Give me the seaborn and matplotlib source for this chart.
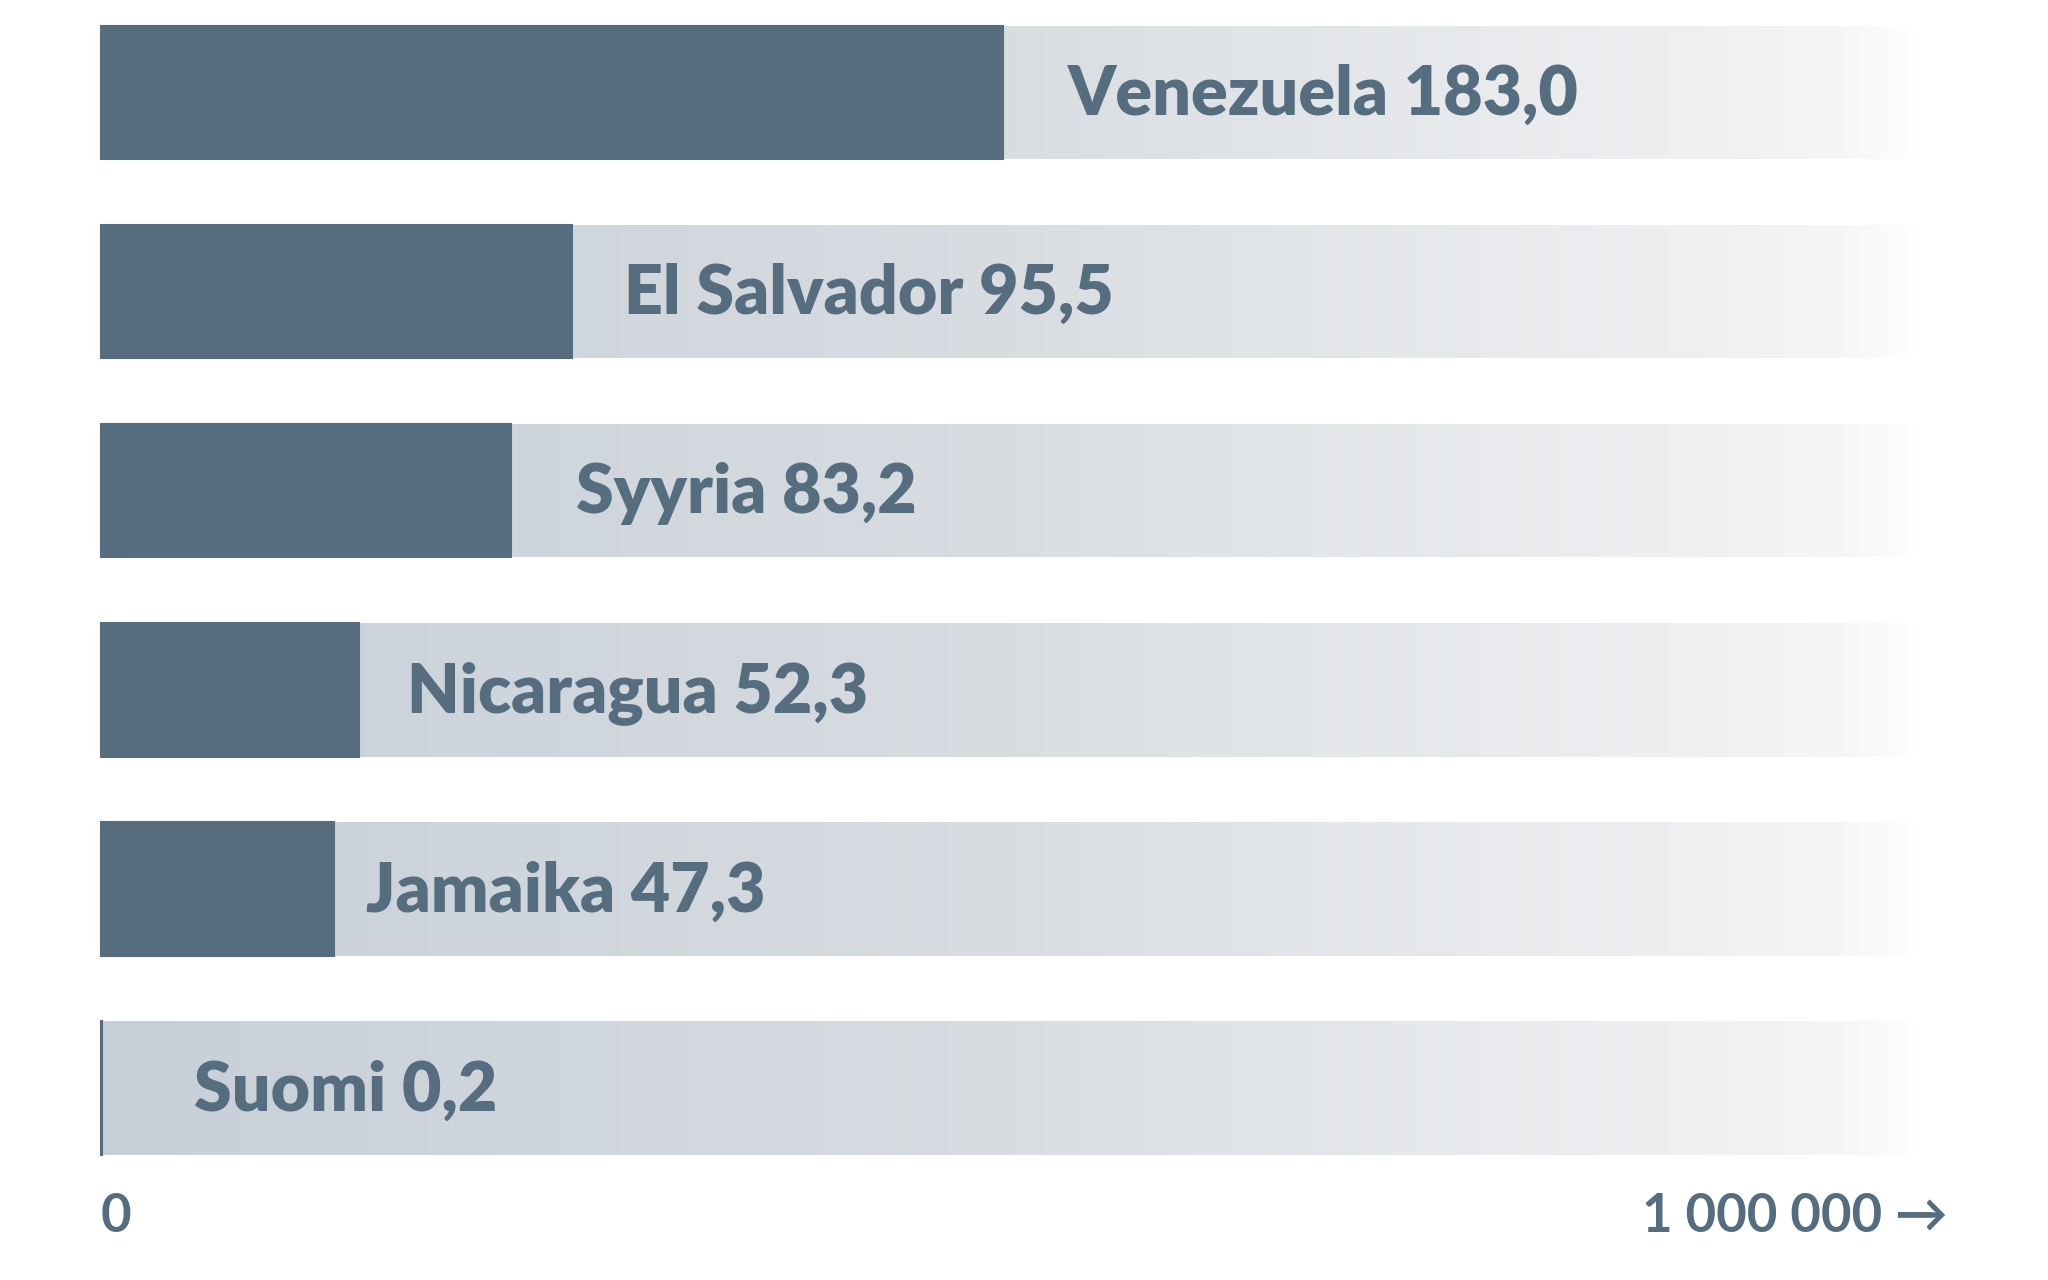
import numpy as np
import pandas as pd
import matplotlib
matplotlib.use("Agg")
import matplotlib.pyplot as plt
from matplotlib.colors import LinearSegmentedColormap
import seaborn as sns

# ---- data ----
countries = ["Venezuela", "El Salvador", "Syyria", "Nicaragua", "Jamaika", "Suomi"]
values = [183.0, 95.5, 83.2, 52.3, 47.3, 0.2]
value_labels = ["183,0", "95,5", "83,2", "52,3", "47,3", "0,2"]
axis_min_label = "0"
axis_max_label = "1 000 000 \u2192"

# ---- style / layout ----
DARK = "#566d80"
BG_EXTENT = 370.0           # background track length (data units)
label_pad = [13.2, 10.7, 13.3, 9.9, 6.5, 18.7]

sns.set_theme(style="white")
plt.rcParams["font.family"] = ["Lato", "DejaVu Sans"]

fig = plt.figure(figsize=(20.48, 12.8), dpi=100)
ax = fig.add_axes([0, 0, 1, 1])

df = pd.DataFrame({"country": countries, "value": values,
                   "track": [BG_EXTENT] * len(countries)})

# background tracks
sns.barplot(data=df, x="track", y="country", orient="h", color="#c8d0d9",
            width=0.67, ax=ax, zorder=1)
track_patches = list(ax.patches)

grad_cmap = LinearSegmentedColormap.from_list(
    "track",
    [(0.0, "#c7cfd8"), (0.5, "#d9dde2"), (0.88, "#eff0f2"),
     (0.955, "#f5f5f7"), (1.0, "#ffffff")])
grad = np.linspace(0, 1, 512).reshape(1, -1)
for p in track_patches:
    x0, y0 = p.get_x(), p.get_y()
    w, h = p.get_width(), p.get_height()
    im = ax.imshow(grad, cmap=grad_cmap, aspect="auto",
                   extent=(x0, x0 + w, y0 + h, y0), zorder=1.5,
                   interpolation="bilinear")
    im.set_clip_path(p)
    p.set_facecolor("none")
    p.set_edgecolor("none")

# value bars
sns.barplot(data=df, x="value", y="country", orient="h", color=DARK,
            width=0.67, ax=ax, zorder=2, edgecolor=DARK, linewidth=1.5,
            saturation=1)

# limits mapping to pixel layout
ax.set_xlim(-20.4, 394.9)
ax.set_ylim(5.964, -0.4646)
ax.set_axis_off()

# labels
for i, (c, v, vl) in enumerate(zip(countries, values, value_labels)):
    ax.text(v + label_pad[i], i + 0.112, f"{c} {vl}", color=DARK,
            fontsize=49, fontweight="heavy", ha="left", va="baseline", zorder=3)

ax.text(0, 5.721, axis_min_label, color=DARK, fontsize=38, fontweight="bold",
        ha="left", va="baseline")
ax.text(374.5, 5.721, axis_max_label, color=DARK, fontsize=38, fontweight="bold",
        ha="right", va="baseline")

fig.savefig("out.png", dpi=100, facecolor="white")
